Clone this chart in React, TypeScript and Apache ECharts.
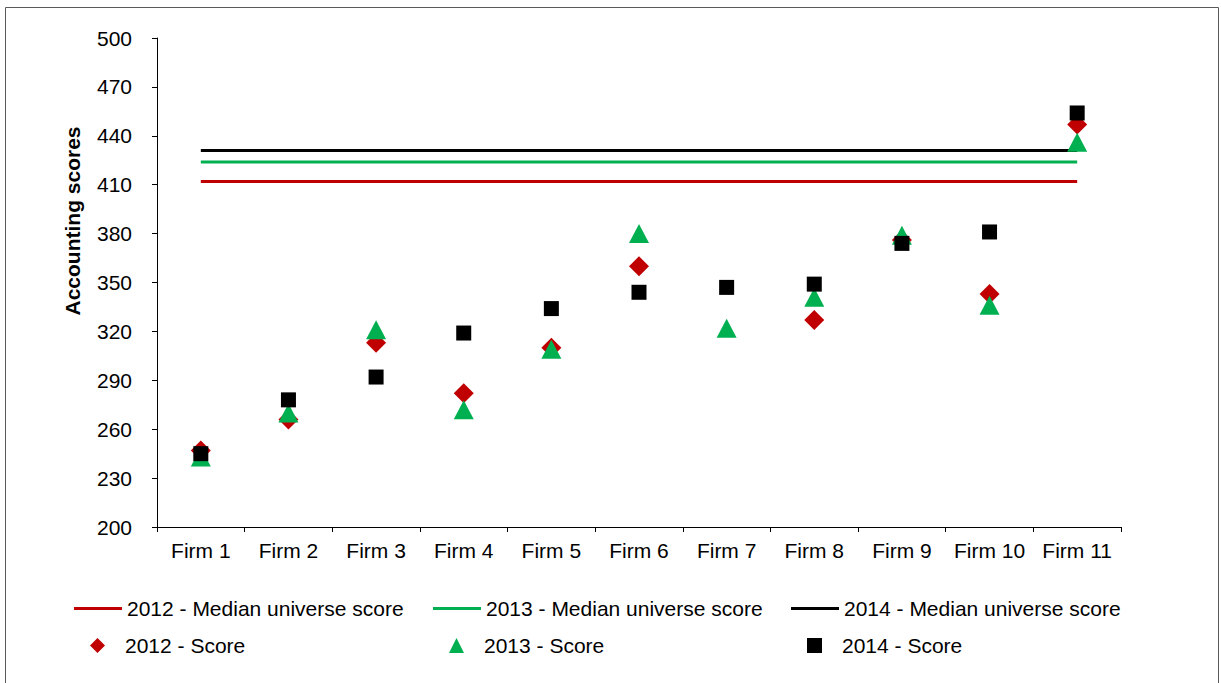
import React, { useEffect, useRef } from "react";
import * as echarts from "echarts";

const categories = ["Firm 1", "Firm 2", "Firm 3", "Firm 4", "Firm 5", "Firm 6", "Firm 7", "Firm 8", "Firm 9", "Firm 10", "Firm 11"];
const score2012 = [247, 266, 313, 282, 310, 360, null, 327, 376, 343, 447];
const score2013 = [243, 270, 321, 272, 309, 380, 322, 341, 379, 336, 436];
const score2014 = [245, 278, 292, 319, 334, 344, 347, 349, 374, 381, 454];
const median2012 = [412, 412, 412, 412, 412, 412, 412, 412, 412, 412, 412];
const median2013 = [424, 424, 424, 424, 424, 424, 424, 424, 424, 424, 424];
const median2014 = [431, 431, 431, 431, 431, 431, 431, 431, 431, 431, 431];

const RED = "#C00000";
const GREEN = "#00B050";
const BLACK = "#000000";
const FONT = "'Liberation Sans', Arial, sans-serif";
const FS = 21;

export default function App() {
  const ref = useRef<HTMLDivElement>(null);
  useEffect(() => {
    if (!ref.current) return;
    const chart = echarts.init(ref.current, undefined, { renderer: "svg" });
    const lineLegend = (left: number, name: string) => ({
      orient: "horizontal",
      left,
      top: 598,
      padding: 0,
      itemWidth: 48,
      itemHeight: 3,
      icon: "rect",
      textStyle: { fontSize: FS, color: "#000", fontFamily: FONT },
      selectedMode: false,
      data: [name],
    });
    const markLegend = (left: number, name: string, icon: string) => ({
      orient: "horizontal",
      left,
      top: 635,
      padding: 0,
      itemWidth: 15,
      itemHeight: 15,
      textStyle: { fontSize: FS, color: "#000", fontFamily: FONT, padding: [0, 0, 0, 15] },
      selectedMode: false,
      data: [{ name, icon }],
    });
    const lineSeries = (name: string, data: number[], color: string) => ({
      name,
      type: "line",
      data,
      symbol: "none",
      lineStyle: { color, width: 3 },
      itemStyle: { color },
      z: 2,
    });
    chart.setOption({
      animation: false,
      textStyle: { fontFamily: FONT },
      graphic: [
        {
          type: "rect",
          shape: { x: 5.5, y: 7.5, width: 1213, height: 700 },
          style: { fill: "none", stroke: "#595959", lineWidth: 1 },
          silent: true,
        },
        {
          type: "text",
          x: 72,
          y: 221,
          rotation: Math.PI / 2,
          style: {
            text: "Accounting scores",
            fontSize: FS,
            fontWeight: "bold",
            fontFamily: FONT,
            fill: "#000",
            align: "center",
            verticalAlign: "middle",
          },
        },
      ],
      legend: [
        lineLegend(74, "2012 - Median universe score"),
        lineLegend(433, "2013 - Median universe score"),
        lineLegend(791, "2014 - Median universe score"),
        markLegend(90, "2012 - Score", "diamond"),
        markLegend(449, "2013 - Score", "triangle"),
        markLegend(807, "2014 - Score", "rect"),
      ],
      grid: { left: 157, right: 100, top: 38, bottom: 156, containLabel: false },
      xAxis: {
        type: "category",
        data: categories,
        boundaryGap: true,
        axisLine: { lineStyle: { color: "#000", width: 1 } },
        axisTick: { show: true, length: 5, alignWithLabel: false, lineStyle: { color: "#000" } },
        axisLabel: { fontSize: FS, color: "#000", margin: 13, fontFamily: FONT, interval: 0 },
        splitLine: { show: false },
      },
      yAxis: {
        type: "value",
        min: 200,
        max: 500,
        interval: 30,
        axisLine: { show: true, lineStyle: { color: "#000", width: 1 } },
        axisTick: { show: true, length: 5, lineStyle: { color: "#000" } },
        axisLabel: { fontSize: FS, color: "#000", margin: 25, fontFamily: FONT },
        splitLine: { show: false },
      },
      series: [
        lineSeries("2012 - Median universe score", median2012, RED),
        lineSeries("2013 - Median universe score", median2013, GREEN),
        lineSeries("2014 - Median universe score", median2014, BLACK),
        {
          name: "2012 - Score",
          type: "scatter",
          data: score2012,
          symbol: "diamond",
          symbolSize: [20, 20],
          itemStyle: { color: RED, opacity: 1 },
          z: 3,
        },
        {
          name: "2013 - Score",
          type: "scatter",
          data: score2013,
          symbol: "triangle",
          symbolSize: [20, 19],
          itemStyle: { color: GREEN, opacity: 1 },
          z: 4,
        },
        {
          name: "2014 - Score",
          type: "scatter",
          data: score2014,
          symbol: "rect",
          symbolSize: [15, 15],
          itemStyle: { color: BLACK, opacity: 1, borderRadius: 2 },
          z: 5,
        },
      ],
    });
    return () => chart.dispose();
  }, []);
  return (
    <div
      ref={ref}
      style={{ position: "absolute", left: 0, top: 0, width: 1221, height: 683, background: "#fff" }}
    />
  );
}
